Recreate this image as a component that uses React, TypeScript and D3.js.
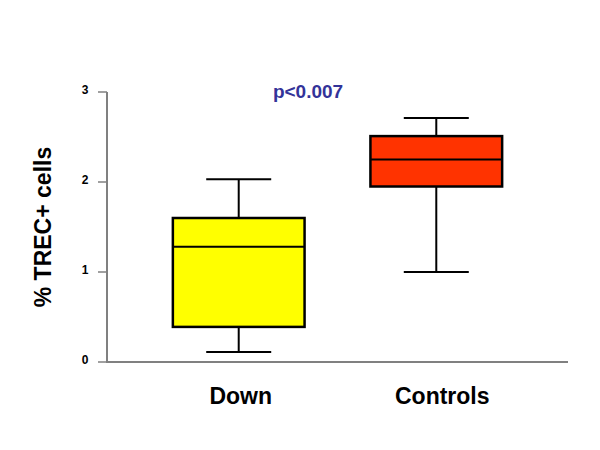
import React from "react";
import * as d3 from "d3";

const categories = ["Down", "Controls"];
const whiskerLow = [0.11, 1.0];
const q1 = [0.39, 1.95];
const medians = [1.28, 2.25];
const q3 = [1.6, 2.51];
const whiskerHigh = [2.03, 2.71];
const fills = ["#FFFF00", "#FF3300"];
const yTicks = [0, 1, 2, 3];
const pText = "p<0.007";

export default function App() {
  const W = 600, H = 450;
  const x = d3.scaleBand<string>().domain(categories).range([107, 568]).paddingInner(1 / 3).paddingOuter(1 / 3);
  const y = d3.scaleLinear().domain([0, 3]).range([362, 92]);
  const bw = x.bandwidth();
  const capW = 65;
  const labelShift = [2, 6];
  const font = "'Liberation Sans', Arial, sans-serif";
  return (
    <svg width={W} height={H} style={{ position: "absolute", left: 0, top: 0, background: "#fff" }} fontFamily={font}>
      <rect width={W} height={H} fill="#fff" />
      <line x1={107} x2={107} y1={y(3)} y2={y(0)} stroke="#808080" strokeWidth={2} />
      <line x1={106} x2={568} y1={y(0)} y2={y(0)} stroke="#808080" strokeWidth={2} />
      {yTicks.map((t) => (
        <g key={t}>
          <line x1={98} x2={107} y1={y(t)} y2={y(t)} stroke="#808080" strokeWidth={1.5} />
          <text x={88.5} y={y(t)} dy="0.2em" textAnchor="end" fontSize={12} fontWeight="bold" fill="#000">
            {t}
          </text>
        </g>
      ))}
      <text transform={`translate(51,227) rotate(-90)`} textAnchor="middle" fontSize={23} fontWeight="bold" fill="#000">
        % TREC+ cells
      </text>
      {categories.map((c, i) => {
        const x0 = x(c)!;
        const cx = x0 + bw / 2;
        return (
          <g key={c}>
            <line x1={cx} x2={cx} y1={y(whiskerHigh[i])} y2={y(q3[i])} stroke="#000" strokeWidth={2} />
            <line x1={cx} x2={cx} y1={y(q1[i])} y2={y(whiskerLow[i])} stroke="#000" strokeWidth={2} />
            <line x1={cx - capW / 2} x2={cx + capW / 2} y1={y(whiskerHigh[i])} y2={y(whiskerHigh[i])} stroke="#000" strokeWidth={2} />
            <line x1={cx - capW / 2} x2={cx + capW / 2} y1={y(whiskerLow[i])} y2={y(whiskerLow[i])} stroke="#000" strokeWidth={2} />
            <rect x={x0} y={y(q3[i])} width={bw} height={y(q1[i]) - y(q3[i])} fill={fills[i]} stroke="#000" strokeWidth={2.5} />
            <line x1={x0} x2={x0 + bw} y1={y(medians[i])} y2={y(medians[i])} stroke="#000" strokeWidth={2} />
            <text x={cx + labelShift[i]} y={404} textAnchor="middle" fontSize={23} fontWeight="bold" fill="#000">
              {c}
            </text>
          </g>
        );
      })}
      <text x={308} y={98} textAnchor="middle" fontSize={19} fontWeight="bold" fill="#333399">
        {pText}
      </text>
    </svg>
  );
}
